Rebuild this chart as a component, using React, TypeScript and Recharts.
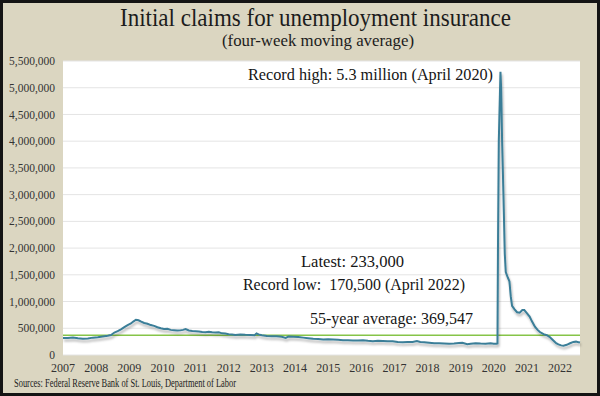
import React from 'react';
import { LineChart, Line, XAxis, YAxis, CartesianGrid, ReferenceLine } from 'recharts';

const dates = [
  2007.0, 2007.15, 2007.3, 2007.45, 2007.6, 2007.75, 2007.9,
  2008.05, 2008.2, 2008.35, 2008.45, 2008.55, 2008.65, 2008.75, 2008.85, 2008.95,
  2009.05, 2009.12, 2009.2, 2009.28, 2009.36, 2009.45, 2009.55, 2009.65, 2009.75, 2009.85, 2009.95,
  2010.05, 2010.15, 2010.25, 2010.35, 2010.45, 2010.55, 2010.62, 2010.7, 2010.8, 2010.9,
  2011.0, 2011.1, 2011.2, 2011.3, 2011.4, 2011.5, 2011.6, 2011.7, 2011.8, 2011.9,
  2012.0, 2012.1, 2012.2, 2012.35, 2012.5, 2012.65, 2012.78, 2012.84, 2012.9,
  2013.0, 2013.15, 2013.3, 2013.45, 2013.6, 2013.72, 2013.8, 2013.95,
  2014.1, 2014.25, 2014.4, 2014.55, 2014.7, 2014.85,
  2015.0, 2015.15, 2015.3, 2015.45, 2015.6, 2015.75, 2015.9,
  2016.05, 2016.2, 2016.35, 2016.5, 2016.65, 2016.8, 2016.95,
  2017.1, 2017.25, 2017.4, 2017.55, 2017.68, 2017.78, 2017.9,
  2018.05, 2018.2, 2018.35, 2018.5, 2018.65, 2018.8, 2018.95,
  2019.05, 2019.2, 2019.3, 2019.45, 2019.6, 2019.75, 2019.9,
  2020.0, 2020.08, 2020.11, 2020.125, 2020.15, 2020.2,
  2020.22, 2020.25, 2020.29, 2020.33, 2020.36, 2020.42, 2020.47, 2020.51, 2020.55,
  2020.62, 2020.7, 2020.78, 2020.86, 2020.92, 2020.99,
  2021.08, 2021.15, 2021.24, 2021.32, 2021.39, 2021.5, 2021.6, 2021.68, 2021.78, 2021.88, 2021.95,
  2022.03, 2022.1, 2022.2, 2022.3, 2022.4, 2022.48, 2022.55, 2022.6,
];

const claims = [
  320000, 318000, 325000, 312000, 305000, 310000, 325000,
  330000, 345000, 360000, 375000, 420000, 445000, 480000, 520000, 560000,
  590000, 625000, 660000, 650000, 625000, 600000, 585000, 560000, 545000, 520000, 500000,
  485000, 490000, 470000, 465000, 460000, 465000, 470000, 485000, 460000, 450000,
  445000, 440000, 430000, 425000, 435000, 425000, 420000, 425000, 405000, 400000,
  390000, 385000, 375000, 385000, 378000, 375000, 370000, 405000, 385000,
  370000, 355000, 350000, 350000, 340000, 320000, 345000, 340000,
  335000, 325000, 315000, 302000, 300000, 290000,
  295000, 290000, 285000, 278000, 275000, 272000, 270000,
  275000, 265000, 258000, 268000, 262000, 255000, 258000,
  245000, 240000, 243000, 245000, 262000, 245000, 238000,
  230000, 222000, 222000, 215000, 210000, 213000, 225000,
  228000, 200000, 210000, 218000, 213000, 212000, 220000,
  212000, 210000, 215000, 2000000, 4000000, 5300000,
  5000000, 4000000, 3000000, 1900000, 1550000, 1450000, 1380000, 1100000, 920000,
  860000, 800000, 790000, 840000, 840000, 790000,
  720000, 630000, 530000, 470000, 430000, 390000, 370000, 340000, 280000, 220000, 200000,
  180000, 175000, 190000, 220000, 245000, 250000, 240000, 233000,
];

const yearTicks = [2007, 2008, 2009, 2010, 2011, 2012, 2013, 2014, 2015, 2016, 2017, 2018, 2019, 2020, 2021, 2022];
const claimTicks = [0, 500000, 1000000, 1500000, 2000000, 2500000, 3000000, 3500000, 4000000, 4500000, 5000000, 5500000];
const AVERAGE = 369547;

const TITLE = 'Initial claims for unemployment insurance';
const SUBTITLE = '(four-week moving average)';
const NOTE_HIGH = 'Record high: 5.3 million (April 2020)';
const NOTE_LATEST = 'Latest: 233,000';
const NOTE_LOW = 'Record low:  170,500 (April 2022)';
const NOTE_AVG = '55-year average: 369,547';
const SOURCE = 'Sources: Federal Reserve Bank of St. Louis, Department of Labor';

const data = dates.map((t, i) => ({ t, claims: claims[i] }));

const SERIF = '"Liberation Serif", "DejaVu Serif", serif';
const fmt = (v: number) => v.toLocaleString('en-US');

export default function App() {
  const note = { fontFamily: SERIF, fontSize: 16, fill: '#151515', whiteSpace: 'pre' as const };
  return (
    <div
      style={{
        position: 'absolute',
        left: 0,
        top: 0,
        width: 600,
        height: 396,
        background: '#dbd6c1',
        boxShadow: 'inset 0 0 0 3px #141414',
        overflow: 'hidden',
      }}
    >
      <svg width={0} height={0} style={{ position: 'absolute' }}>
        <defs>
          <filter id="lineShadow" x="-5%" y="-5%" width="110%" height="115%">
            <feDropShadow dx="1" dy="2.5" stdDeviation="1.2" floodColor="#000" floodOpacity="0.3" />
          </filter>
        </defs>
      </svg>
      <style>{`.claims-line .recharts-line-curve { filter: url(#lineShadow); }`}</style>
      <LineChart width={600} height={396} data={data} margin={{ top: 61, right: 20, bottom: 11, left: 0 }}>
        <CartesianGrid vertical={false} stroke="#e4e4e4" fill="#ffffff" />
        <XAxis
          dataKey="t"
          type="number"
          domain={[2007, 2022.6]}
          ticks={yearTicks}
          height={30}
          axisLine={false}
          tickLine={false}
          interval={0}
          tick={{ fontSize: 12, fill: '#333', fontFamily: SERIF }}
        />
        <YAxis
          domain={[0, 5500000]}
          ticks={claimTicks}
          width={63}
          axisLine={false}
          tickLine={false}
          interval={0}
          tickFormatter={fmt}
          tick={{ fontSize: 11.5, fill: '#333', fontFamily: SERIF }}
        />
        <ReferenceLine y={AVERAGE} stroke="#86c448" strokeWidth={1.5} />
        <Line
          className="claims-line"
          dataKey="claims"
          type="linear"
          stroke="#3a7e98"
          strokeWidth={2}
          dot={false}
          isAnimationActive={false}
        />
      </LineChart>
      <svg width={600} height={396} style={{ position: 'absolute', left: 0, top: 0, pointerEvents: 'none' }}>
        <text x={120} y={26} fontFamily={SERIF} fontSize={25} fill="#1c1c1c" textLength={391} lengthAdjust="spacingAndGlyphs">
          {TITLE}
        </text>
        <text x={222} y={46} fontFamily={SERIF} fontSize={17} fill="#1c1c1c" textLength={192} lengthAdjust="spacingAndGlyphs">
          {SUBTITLE}
        </text>
        <text x={248} y={80} style={note} textLength={245} lengthAdjust="spacingAndGlyphs">{NOTE_HIGH}</text>
        <text x={301} y={267} style={note} textLength={103} lengthAdjust="spacingAndGlyphs">{NOTE_LATEST}</text>
        <text x={243} y={290} style={note} textLength={222} lengthAdjust="spacingAndGlyphs">{NOTE_LOW}</text>
        <text x={310} y={324} style={note} textLength={163} lengthAdjust="spacingAndGlyphs">{NOTE_AVG}</text>
        <text x={14} y={387} fontFamily={SERIF} fontSize={12.5} fill="#1c1c1c" textLength={222} lengthAdjust="spacingAndGlyphs">
          {SOURCE}
        </text>
      </svg>
    </div>
  );
}
